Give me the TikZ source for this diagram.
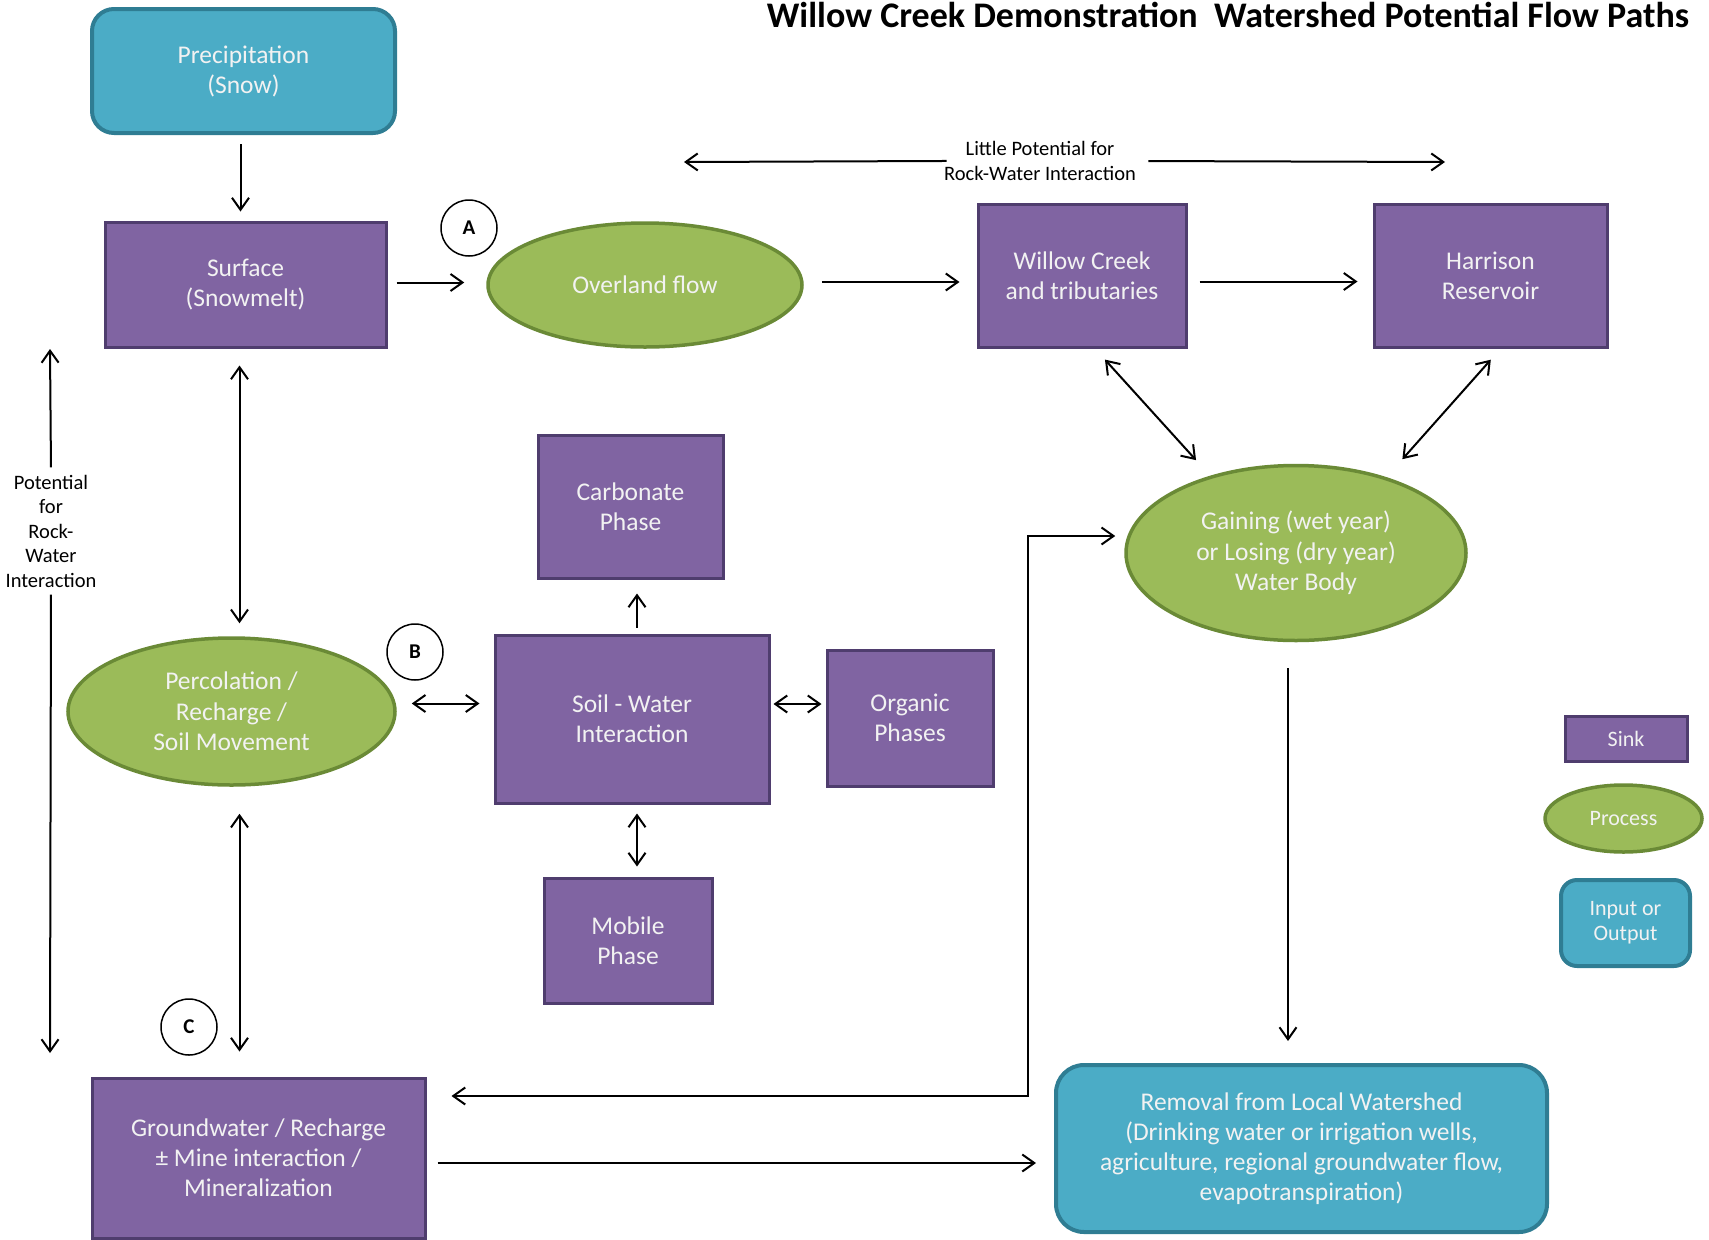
\documentclass[tikz,border=0pt]{standalone}
\usepackage{fontspec}
\setmainfont{Carlito}
\usetikzlibrary{positioning,arrows.meta,calc,shapes.geometric}
\definecolor{sinkfill}{HTML}{8064A2}
\definecolor{sinkline}{HTML}{4F3D6E}
\definecolor{procfill}{HTML}{9BBB59}
\definecolor{procline}{HTML}{6A8A36}
\definecolor{iofill}{HTML}{4BACC6}
\definecolor{ioline}{HTML}{2F7D93}
\definecolor{labeltext}{HTML}{F2F2F2}
\tikzset{
    auto,
    sink/.style = {
        draw=sinkline,
        fill=sinkfill,
        shape=rectangle,
        line width=3pt,
        text=labeltext,
        align=center,
        inner sep=0pt,
        font=\fontsize{25.5}{30}\selectfont
    },
    process/.style = {
        draw=procline,
        fill=procfill,
        shape=ellipse,
        line width=3.5pt,
        text=labeltext,
        align=center,
        inner sep=0pt,
        font=\fontsize{25.5}{30.5}\selectfont
    },
    io/.style = {
        draw=ioline,
        fill=iofill,
        shape=rectangle,
        rounded corners=22pt,
        line width=4pt,
        text=labeltext,
        align=center,
        inner sep=0pt,
        font=\fontsize{25.5}{30}\selectfont
    },
    tag/.style = {
        draw,
        shape=circle,
        line width=1.5pt,
        minimum size=56pt,
        inner sep=0pt,
        font=\bfseries\fontsize{21}{21}\selectfont
    },
    note/.style = {
        align=center,
        font=\fontsize{20.5}{24.5}\selectfont
    },
    flow/.style = {
        line width=2pt
    },
    >={Straight Barb[length=12pt,width=17pt]},
}

\begin{document}
\begin{tikzpicture}[x=1pt,y=-1pt]
    \useasboundingbox (0,0) rectangle (1709,1240);

    \node[anchor=base, font=\bfseries\fontsize{36}{36}\selectfont] (title) at (1228,27) {Willow Creek Demonstration~\ Watershed Potential Flow Paths};

    \node[io, minimum width=303pt, minimum height=124pt] (precip) at (243.5,71) {Precipitation\\(Snow)};
    \node[sink, minimum width=281pt, minimum height=125pt] (surf) at (245.5,284.5) {Surface\\(Snowmelt)};
    \node[process, minimum width=314pt, minimum height=124pt] (over) at (645,285) {Overland flow};
    \node[sink, minimum width=208pt, minimum height=143pt] (willow) at (1082,275.5) {Willow Creek\\and tributaries};
    \node[sink, minimum width=233pt, minimum height=143pt] (harr) at (1490.5,275.5) {Harrison\\Reservoir};
    \node[sink, minimum width=185pt, minimum height=143pt] (carb) at (630.5,506.5) {Carbonate\\Phase};
    \node[process, minimum width=340pt, minimum height=175pt] (gain) at (1296,553) {Gaining (wet year)\\or Losing (dry year)\\Water Body};
    \node[process, minimum width=327pt, minimum height=147pt] (perc) at (231.5,711.5) {Percolation /\\Recharge /\\Soil Movement};
    \node[sink, minimum width=274pt, minimum height=168pt] (soil) at (632,719) {Soil - Water\\Interaction};
    \node[sink, minimum width=166pt, minimum height=136pt] (org) at (910,718) {Organic\\Phases};
    \node[sink, minimum width=168pt, minimum height=125pt] (mob) at (628,940.5) {Mobile\\Phase};
    \node[sink, minimum width=333pt, minimum height=160pt] (gw) at (258.5,1158) {Groundwater / Recharge\\± Mine interaction /\\Mineralization};
    \node[io, rounded corners=28pt, minimum width=491pt, minimum height=167pt] (rem) at (1301.5,1148.5) {Removal from Local Watershed\\(Drinking water or irrigation wells,\\agriculture, regional groundwater flow,\\evapotranspiration)};

    \node[tag] (tagA) at (469,228) {A};
    \node[tag] (tagB) at (415,652) {B};
    \node[tag] (tagC) at (189,1027) {C};

    \node[note] (lpot) at (1040,161) {Little Potential for\\Rock-Water Interaction};
    \node[note] (rwi) at (51,531) {Potential\\for\\Rock-\\Water\\Interaction};
    \coordinate (lpotL) at (684,162);
    \coordinate (lpotR) at (1445,162);
    \coordinate (rwitop) at (50,349);
    \coordinate (rwibot) at (50,1053);
    \coordinate (bend) at (1028,536);

    % legend
    \node[sink, minimum width=122pt, minimum height=45pt, font=\fontsize{22}{25}\selectfont] (keysink) at (1626,738.5) {Sink};
    \node[process, minimum width=157pt, minimum height=67pt, font=\fontsize{22}{25}\selectfont] (keyproc) at (1623.5,818.5) {Process};
    \node[io, rounded corners=16pt, minimum width=129pt, minimum height=86pt, font=\fontsize{22}{25}\selectfont] (keyio) at (1625.5,923) {Input or\\Output};

    \path[draw, flow, ->, shorten <=9pt, shorten >=9pt] ([xshift=-3pt]precip.south) -- ([xshift=-3pt]precip.south |- surf.north);
    \path[draw, flow, ->, shorten <=9pt, shorten >=22pt] ([yshift=2pt]surf.east) -- ([yshift=2pt]surf.east -| over.west);
    \path[draw, flow, ->, shorten <=18pt, shorten >=17pt] ([yshift=3pt]over.east) -- ([yshift=3pt]over.east -| willow.west);
    \path[draw, flow, ->, shorten <=12pt, shorten >=15pt] ([yshift=-6pt]willow.east) -- ([yshift=-6pt]willow.east -| harr.west);
    \path[draw, flow, ->, shorten <=-6pt] (lpot.west) -- (lpotL);
    \path[draw, flow, ->, shorten <=9pt] (lpot.east) -- (lpotR);
    \path[draw, flow, <->, shorten <=15pt, shorten >=21pt] (willow.-80) -- (gain.138);
    \path[draw, flow, <->, shorten <=15pt, shorten >=24pt] (harr.-82) -- (gain.40);

    \path[draw, flow, <->, shorten <=17pt, shorten >=13pt] ([xshift=-6pt]surf.south) -- ([xshift=-6pt]surf.south |- perc.north);
    \path[draw, flow, <->, shorten <=15pt, shorten >=14pt] ([yshift=8pt]perc.east) -- ([yshift=8pt]perc.east -| soil.west);
    \path[draw, flow, ->, shorten <=6pt, shorten >=14pt] ([xshift=5pt]soil.north) -- ([xshift=5pt]soil.north |- carb.south);
    \path[draw, flow, <->, shorten <=3pt, shorten >=4pt] ([yshift=15pt]soil.east) -- ([yshift=15pt]soil.east -| org.west);
    \path[draw, flow, <->, shorten <=9pt, shorten >=10pt] ([xshift=5pt]soil.south) -- ([xshift=5pt]soil.south |- mob.north);
    \path[draw, flow, <->, shorten <=27pt, shorten >=25pt] ([xshift=8pt]perc.south) -- ([xshift=8pt]perc.south |- gw.north);

    \path[draw, flow, ->, shorten <=4pt] (rwi.north) -- (rwitop);
    \path[draw, flow, ->, shorten <=4pt] (rwi.south) -- (rwibot);

    \path[draw, flow, ->, shorten <=26pt, shorten >=22pt] ([xshift=-8pt]gain.south) -- ([xshift=-8pt]gain.south |- rem.north);
    \path[draw, flow, ->, shorten <=11pt, shorten >=18pt] ([yshift=-5pt]gw.east) -- ([yshift=-5pt]gw.east -| rem.west);
    \path[draw, flow, <->, shorten <=25pt, shorten >=9pt] ([yshift=62pt]gw.east) -| (bend) -- ([yshift=17pt]gain.west);
\end{tikzpicture}
\end{document}
